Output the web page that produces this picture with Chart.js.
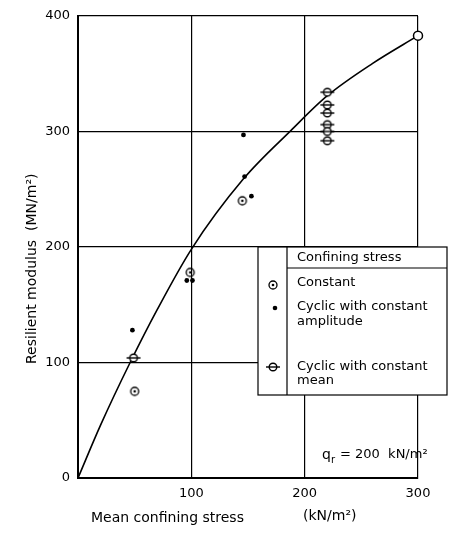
<!DOCTYPE html>
<html>
<head>
<meta charset="utf-8">
<script src="https://cdn.jsdelivr.net/npm/chart.js@4.4.1/dist/chart.umd.min.js"></script>
<style>
  html, body { margin: 0; padding: 0; background: #fff; }
  #wrap { width: 457px; height: 533px; }
</style>
</head>
<body>
<div id="wrap"><canvas id="modulusChart" width="457" height="533"></canvas></div>
<script>
// values (x: mean confining stress kN/m2, y: resilient modulus MN/m2)
const constantX = [50, 99, 145];
const constantY = [75, 178, 240];
const amplitudeX = [48, 96, 101, 146, 147, 153];
const amplitudeY = [128, 171, 171, 297, 261, 244];
const meanX = [49, 220, 220, 220, 220, 220, 220];
const meanY = [104, 334, 323, 316, 306, 300, 292];
const curveX = [0, 20, 46, 70, 100, 146, 188, 220, 260, 300];
const curveY = [0, 46, 100, 146, 198, 259, 301, 331, 359, 383];
const endX = [300];
const endY = [383];
const xTicks = [100, 200, 300];
const yTicks = [0, 100, 200, 300, 400];

const FONT = '"DejaVu Sans", sans-serif';

function pairs(xs, ys) {
    return xs.map((x, i) => ({ x: x, y: ys[i] }));
}

// little marker pictures
function constantMarker() {
    const c = document.createElement('canvas');
    c.width = 12; c.height = 12;
    const g = c.getContext('2d');
    g.strokeStyle = '#000'; g.lineWidth = 1.3;
    g.beginPath(); g.arc(6, 6, 4, 0, Math.PI * 2); g.stroke();
    g.fillStyle = '#000';
    g.beginPath(); g.arc(6, 6, 1.3, 0, Math.PI * 2); g.fill();
    return c;
}
function meanMarker() {
    const c = document.createElement('canvas');
    c.width = 18; c.height = 12;
    const g = c.getContext('2d');
    g.strokeStyle = '#000'; g.lineWidth = 1.4;
    g.fillStyle = '#fff';
    g.beginPath(); g.arc(9, 6, 3.8, 0, Math.PI * 2); g.fill(); g.stroke();
    g.beginPath(); g.moveTo(2, 6); g.lineTo(16, 6); g.stroke();
    return c;
}
const constImg = constantMarker();
const meanImg = meanMarker();

// legend box, q_r note and axis titles
const notes = {
    id: 'notes',
    afterDatasetsDraw(chart) {
        const ctx = chart.ctx;
        ctx.save();
        ctx.fillStyle = '#fff';
        ctx.fillRect(258, 247, 189, 148);
        ctx.strokeStyle = '#000';
        ctx.lineWidth = 1.2;
        ctx.strokeRect(258, 247, 189, 148);
        ctx.beginPath();
        ctx.moveTo(287, 247); ctx.lineTo(287, 395);
        ctx.moveTo(287, 268); ctx.lineTo(447, 268);
        ctx.stroke();

        ctx.fillStyle = '#000';
        ctx.font = '13px ' + FONT;
        ctx.textBaseline = 'middle';
        ctx.textAlign = 'left';
        ctx.fillText('Confining stress', 297, 258);
        ctx.fillText('Constant', 297, 283);
        ctx.fillText('Cyclic with constant', 297, 307);
        ctx.fillText('amplitude', 297, 322);
        ctx.fillText('Cyclic with constant', 297, 367);
        ctx.fillText('mean', 297, 381);

        ctx.drawImage(constImg, 273 - 6, 285 - 6);
        ctx.beginPath(); ctx.arc(275, 308, 2.3, 0, Math.PI * 2); ctx.fill();
        ctx.drawImage(meanImg, 273 - 9, 367 - 6);

        // q_r note
        ctx.font = '14px ' + FONT;
        ctx.fillText('q', 322, 455);
        ctx.font = '10px ' + FONT;
        ctx.fillText('r', 331, 460);
        ctx.font = '13px ' + FONT;
        ctx.fillText('= 200  kN/m²', 340, 455);

        // axis titles
        ctx.font = '14px ' + FONT;
        ctx.fillText('Mean confining stress', 91, 518);
        ctx.fillText('(kN/m²)', 303, 516);
        ctx.translate(32, 364);
        ctx.rotate(-Math.PI / 2);
        ctx.fillText('Resilient modulus  (MN/m²)', 0, 0);
        ctx.restore();
    }
};

const ctx = document.getElementById('modulusChart').getContext('2d');

new Chart(ctx, {
    type: 'scatter',
    data: {
        datasets: [
            {
                label: 'end',
                data: pairs(endX, endY),
                clip: false,
                pointStyle: 'circle',
                pointRadius: 4.5,
                pointBackgroundColor: '#fff',
                pointBorderColor: '#000',
                pointBorderWidth: 1.5
            },
            {
                label: 'Constant',
                data: pairs(constantX, constantY),
                pointStyle: constImg
            },
            {
                label: 'Cyclic with constant amplitude',
                data: pairs(amplitudeX, amplitudeY),
                pointStyle: 'circle',
                pointRadius: 2.4,
                pointBackgroundColor: '#000',
                pointBorderColor: '#000',
                pointBorderWidth: 0
            },
            {
                label: 'Cyclic with constant mean',
                data: pairs(meanX, meanY),
                pointStyle: meanImg
            },
            {
                label: 'curve',
                data: pairs(curveX, curveY),
                showLine: true,
                borderColor: '#000',
                borderWidth: 1.6,
                cubicInterpolationMode: 'monotone',
                pointRadius: 0
            }
        ]
    },
    options: {
        responsive: false,
        animation: false,
        layout: {
            padding: { top: 16, right: 39, left: 0, bottom: 0 }
        },
        scales: {
            x: {
                type: 'linear',
                min: 0,
                max: 300,
                afterFit: scale => { scale.height = 55; },
                afterBuildTicks: scale => { scale.ticks = xTicks.map(v => ({ value: v })); },
                grid: { color: '#000', lineWidth: 1.2, drawTicks: false },
                border: { color: '#000', width: 2 },
                ticks: {
                    color: '#000',
                    padding: 8,
                    font: { family: FONT, size: 13 }
                }
            },
            y: {
                min: 0,
                max: 400,
                afterFit: scale => { scale.width = 78; },
                afterBuildTicks: scale => { scale.ticks = yTicks.map(v => ({ value: v })); },
                grid: { color: '#000', lineWidth: 1.2, drawTicks: false },
                border: { color: '#000', width: 2 },
                ticks: {
                    color: '#000',
                    padding: 8,
                    font: { family: FONT, size: 13 }
                }
            }
        },
        plugins: {
            legend: { display: false },
            tooltip: { enabled: false }
        }
    },
    plugins: [notes]
});
</script>
</body>
</html>
